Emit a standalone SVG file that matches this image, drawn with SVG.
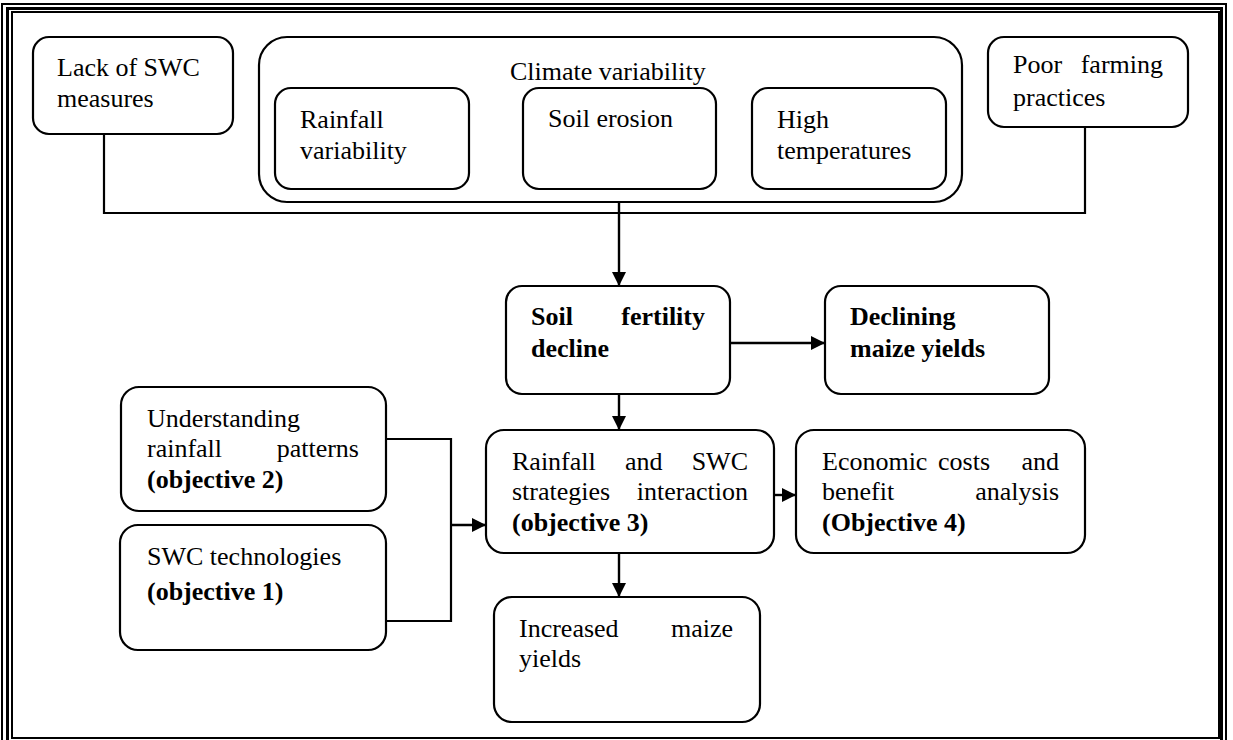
<svg xmlns="http://www.w3.org/2000/svg" width="1233" height="740" viewBox="0 0 1233 740">
<defs>
<marker id="ah" viewBox="0 0 14 14" refX="14" refY="7" markerWidth="14" markerHeight="14" markerUnits="userSpaceOnUse" orient="auto">
<path d="M0,0 L14,7 L0,14 Z" fill="#000"/>
</marker>
<style>
.box{fill:#fff;stroke:#000;stroke-width:2.2}
.t{font-family:"Liberation Serif","Times New Roman",serif;font-size:26px;fill:#000}
.b{font-weight:bold}
.c{fill:none;stroke:#000;stroke-width:2.2}
.a{fill:none;stroke:#000;stroke-width:2.4;marker-end:url(#ah)}
.frame{fill:none;stroke:#000}
</style>
</defs>
<rect width="1233" height="740" fill="#fff"/>
<g id="frame">
<rect class="frame" x="2" y="4" width="1224" height="760" stroke-width="2"/>
<rect class="frame" x="7.5" y="8.5" width="1214" height="750" stroke-width="3"/>
<rect class="frame" x="12" y="12" width="1207" height="726" stroke-width="2"/>
</g>
<g id="connectors">
<path class="c" d="M104,134 V213 H1085 V127"/>
<path class="a" d="M619,189 V286"/>
<path class="a" d="M469,140 H523"/>
<path class="a" d="M752,138 H716"/>
<path class="a" d="M730,343 H825"/>
<path class="a" d="M619,394 V430"/>
<path class="c" d="M386,439 H451 V621 H386"/>
<path class="a" d="M451,525 H486"/>
<path class="a" d="M772,495 H796"/>
<path class="a" d="M619,553 V597"/>
</g>
<g id="lack">
<rect class="box" x="33" y="37" width="200" height="97" rx="16"/>
<text class="t" x="57" y="76">Lack of SWC</text>
<text class="t" x="57" y="107">measures</text>
</g>
<g id="climate">
<rect class="box" x="259" y="37" width="703" height="165" rx="28"/>
<text class="t" x="510" y="80">Climate variability</text>
</g>
<g id="rainfall-var">
<rect class="box" x="275" y="88" width="194" height="101" rx="16"/>
<text class="t" x="300" y="128">Rainfall</text>
<text class="t" x="300" y="159">variability</text>
</g>
<g id="erosion">
<rect class="box" x="523" y="88" width="193" height="101" rx="16"/>
<text class="t" x="548" y="127">Soil erosion</text>
</g>
<g id="hightemp">
<rect class="box" x="752" y="88" width="194" height="101" rx="16"/>
<text class="t" x="777" y="128">High</text>
<text class="t" x="777" y="159">temperatures</text>
</g>
<g id="poor">
<rect class="box" x="988" y="37" width="200" height="90" rx="16"/>
<text class="t" x="1013" y="73">Poor</text>
<text class="t" x="1163" y="73" text-anchor="end">farming</text>
<text class="t" x="1013" y="106">practices</text>
</g>
<g id="fertility">
<rect class="box" x="506" y="286" width="224" height="108" rx="16"/>
<text class="t b" x="531" y="325">Soil</text>
<text class="t b" x="705" y="325" text-anchor="end">fertility</text>
<text class="t b" x="531" y="357">decline</text>
</g>
<g id="declining">
<rect class="box" x="825" y="286" width="224" height="108" rx="16"/>
<text class="t b" x="850" y="325">Declining</text>
<text class="t b" x="850" y="357">maize yields</text>
</g>
<g id="understanding">
<rect class="box" x="121" y="387" width="265" height="124" rx="18"/>
<text class="t" x="147" y="427">Understanding</text>
<text class="t" x="147" y="457">rainfall</text>
<text class="t" x="359" y="457" text-anchor="end">patterns</text>
<text class="t b" x="147" y="488">(objective 2)</text>
</g>
<g id="swc-tech">
<rect class="box" x="120" y="525" width="266" height="125" rx="18"/>
<text class="t" x="147" y="565">SWC technologies</text>
<text class="t b" x="147" y="600">(objective 1)</text>
</g>
<g id="interaction">
<rect class="box" x="486" y="430" width="288" height="123" rx="18"/>
<text class="t" x="512" y="470">Rainfall</text>
<text class="t" x="625" y="470">and</text>
<text class="t" x="748" y="470" text-anchor="end">SWC</text>
<text class="t" x="512" y="500">strategies</text>
<text class="t" x="748" y="500" text-anchor="end">interaction</text>
<text class="t b" x="512" y="531">(objective 3)</text>
</g>
<g id="economic">
<rect class="box" x="796" y="430" width="289" height="123" rx="18"/>
<text class="t" x="822" y="470">Economic</text>
<text class="t" x="938" y="470">costs</text>
<text class="t" x="1059" y="470" text-anchor="end">and</text>
<text class="t" x="822" y="500">benefit</text>
<text class="t" x="1059" y="500" text-anchor="end">analysis</text>
<text class="t b" x="822" y="531">(Objective 4)</text>
</g>
<g id="increased">
<rect class="box" x="494" y="597" width="266" height="125" rx="18"/>
<text class="t" x="519" y="637">Increased</text>
<text class="t" x="733" y="637" text-anchor="end">maize</text>
<text class="t" x="519" y="667">yields</text>
</g>
</svg>
